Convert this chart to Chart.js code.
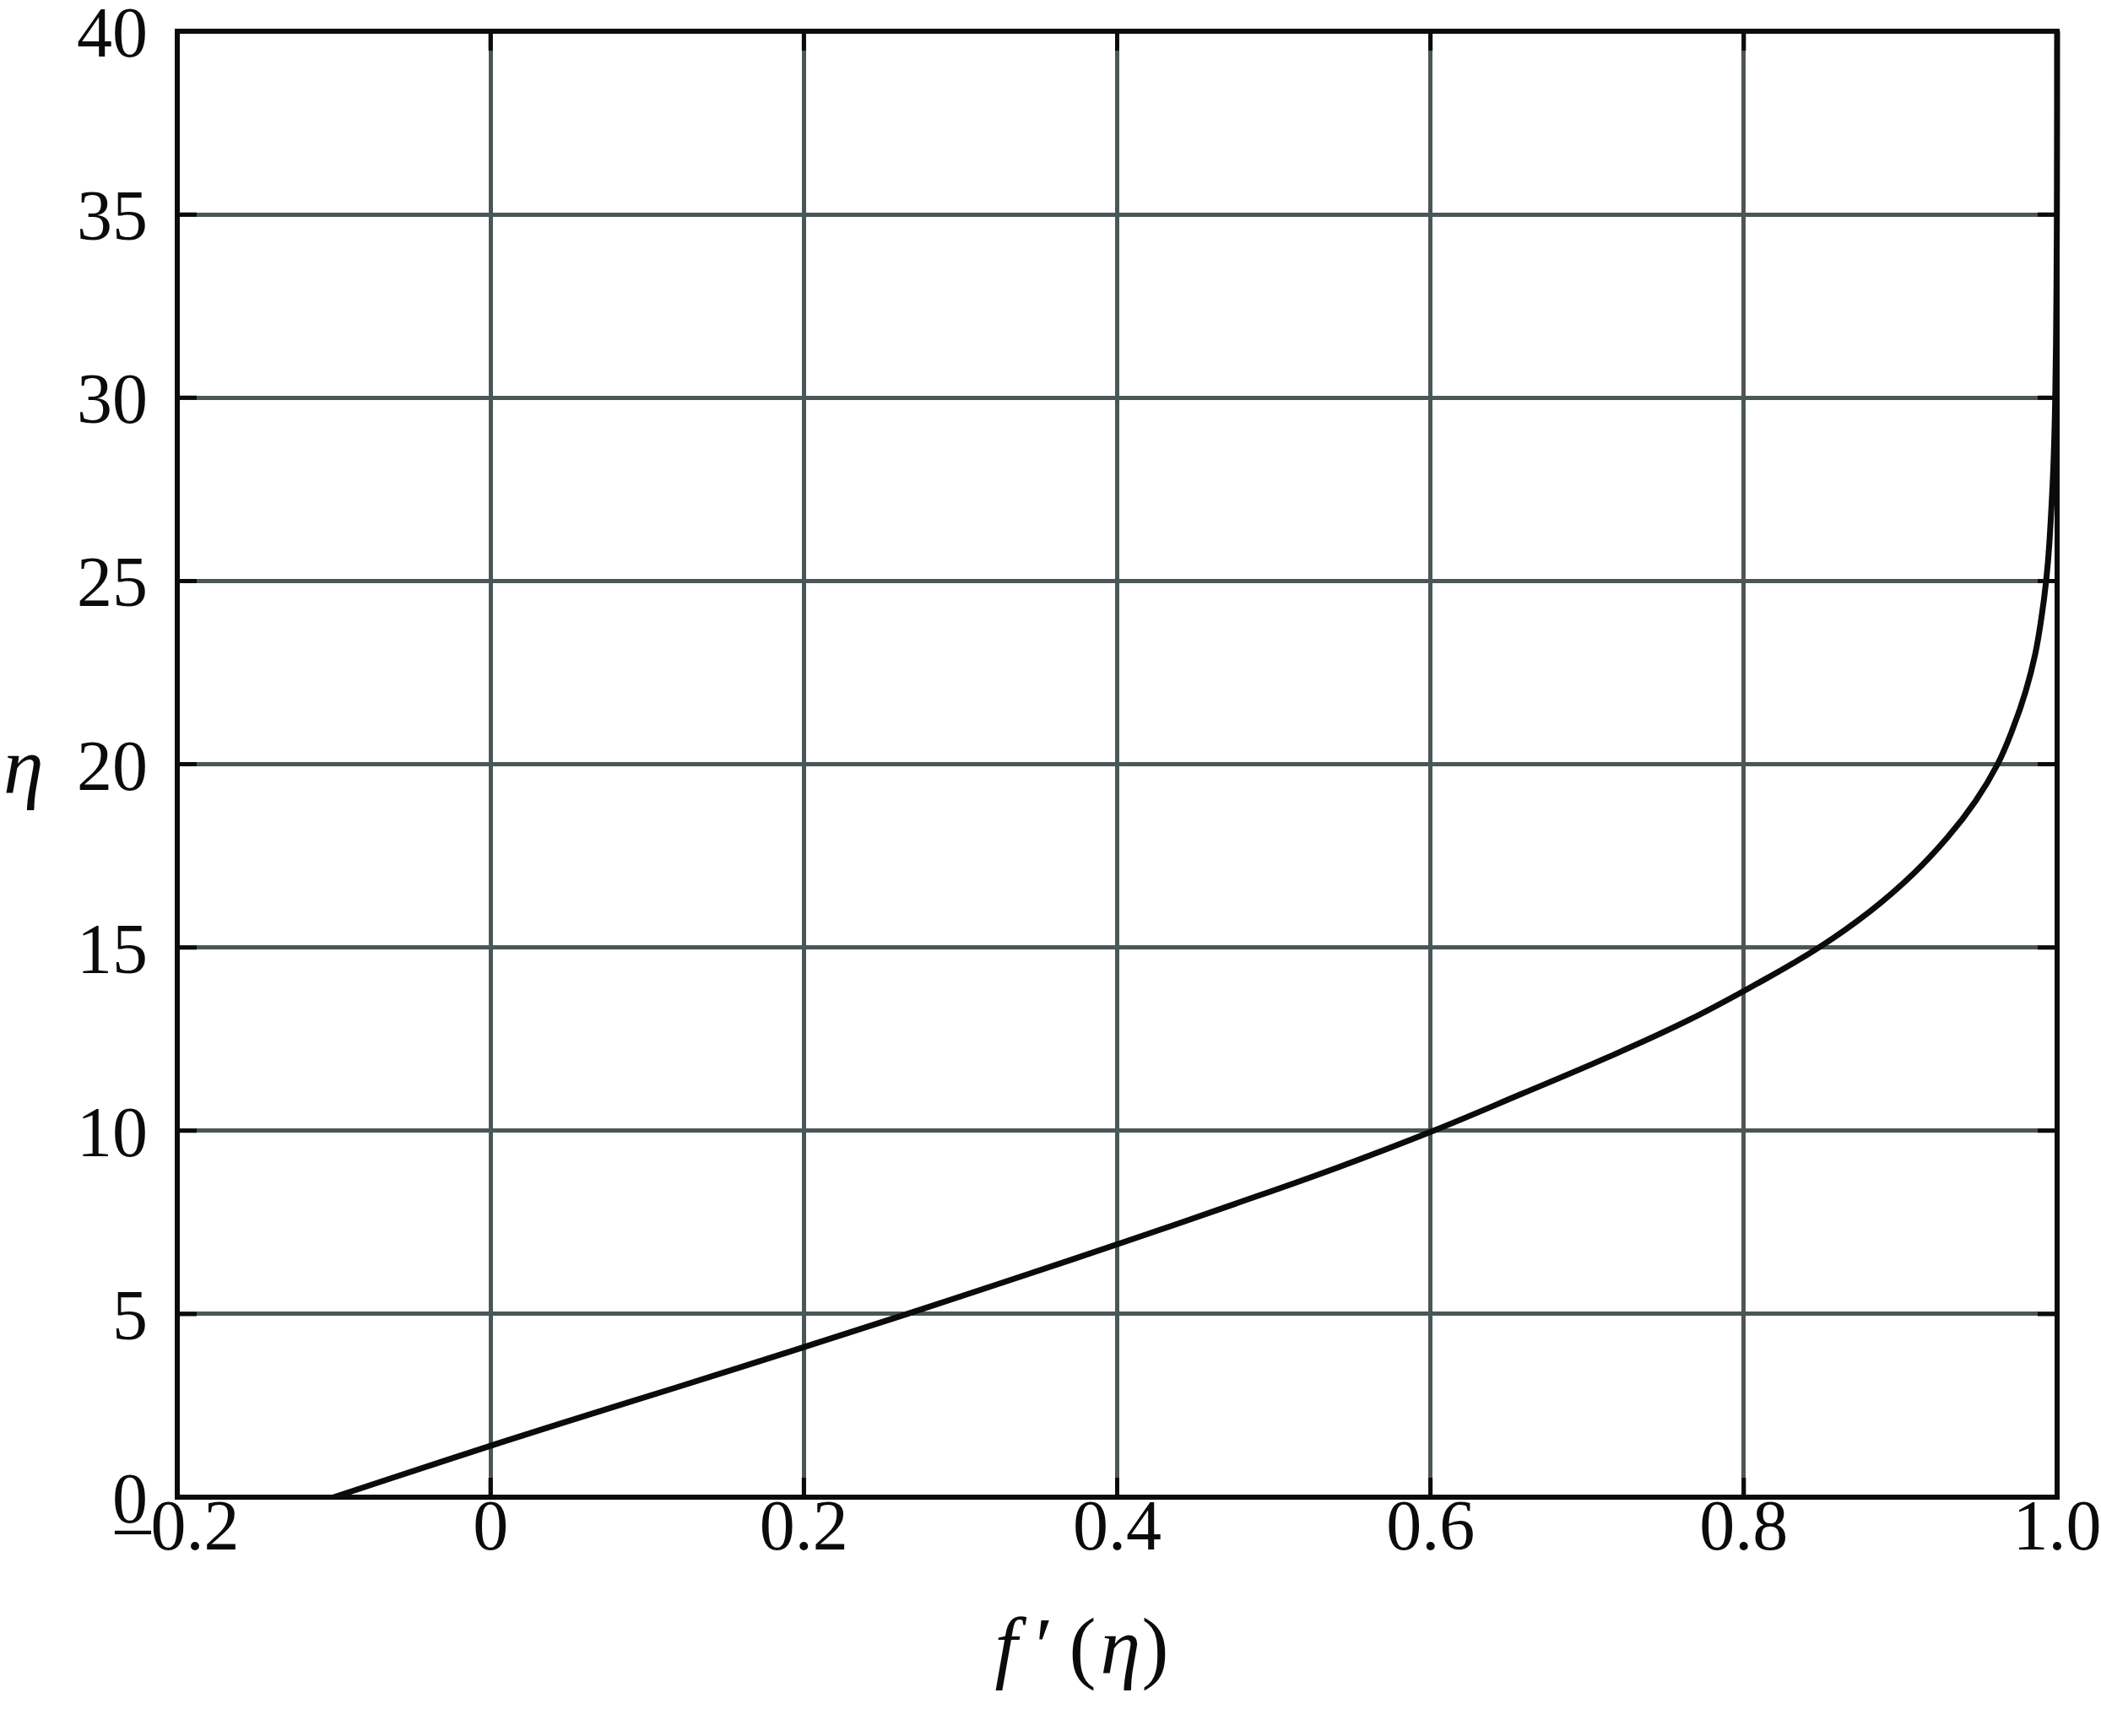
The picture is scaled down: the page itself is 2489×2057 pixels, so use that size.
<!DOCTYPE html>
<html>
<head>
<meta charset="utf-8">
<title>f'(eta) profile</title>
<script src="https://cdn.jsdelivr.net/npm/chart.js@4.4.1/dist/chart.umd.min.js"></script>
<style>
    html, body { margin: 0; padding: 0; background: #fff; }
    #wrap { width: 2489px; height: 2057px; }
</style>
</head>
<body>
<div id="wrap"><canvas id="profileChart" width="2489" height="2057"></canvas></div>
<script>
// Values (eta on the vertical axis, f' on the horizontal)
const etaValues = [0, 1, 2, 3, 4, 5, 6, 7, 8, 9, 10, 11, 12, 13, 14, 15, 16, 17, 18, 19, 20, 21, 22, 23, 24, 25, 26, 28, 30, 33, 36, 40];
const fPrimeValues = [-0.1, -0.029, 0.044, 0.119, 0.193, 0.266, 0.337, 0.407, 0.475, 0.541, 0.602, 0.658, 0.713, 0.764, 0.808, 0.848, 0.881, 0.908, 0.930, 0.948, 0.962, 0.972, 0.980, 0.986, 0.990, 0.993, 0.995, 0.9975, 0.9988, 0.9996, 0.9999, 1.0];

const xTicks = [-0.2, 0, 0.2, 0.4, 0.6, 0.8, 1.0];
const yTicks = [0, 5, 10, 15, 20, 25, 30, 35, 40];

const serif = '"Liberation Serif", "Times New Roman", serif';
const gridColor = '#4b5757';
const inkColor = '#0b0b0b';

// Frame, inward ticks and the math-style axis titles
const framePlugin = {
    id: 'frame',
    beforeDatasetsDraw(chart) {
        const ctx = chart.ctx;
        const a = chart.chartArea;
        const xs = chart.scales.x;
        const ys = chart.scales.y;
        const tick = 23;
        ctx.save();
        ctx.strokeStyle = inkColor;
        ctx.lineWidth = 5;
        xs.ticks.forEach(function(t) {
            const px = xs.getPixelForValue(t.value);
            ctx.beginPath();
            ctx.moveTo(px, a.bottom); ctx.lineTo(px, a.bottom - tick);
            ctx.moveTo(px, a.top); ctx.lineTo(px, a.top + tick);
            ctx.stroke();
        });
        ys.ticks.forEach(function(t) {
            const py = ys.getPixelForValue(t.value);
            ctx.beginPath();
            ctx.moveTo(a.left, py); ctx.lineTo(a.left + tick, py);
            ctx.moveTo(a.right, py); ctx.lineTo(a.right - tick, py);
            ctx.stroke();
        });
        ctx.lineWidth = 6;
        ctx.strokeRect(a.left, a.top, a.right - a.left, a.bottom - a.top);
        ctx.restore();
    },
    afterDraw(chart) {
        const ctx = chart.ctx;
        const a = chart.chartArea;
        ctx.save();
        ctx.fillStyle = inkColor;
        ctx.textBaseline = 'alphabetic';
        ctx.textAlign = 'left';

        // x title: f'(eta), centred a little left of the plot centre
        const size = 96;
        const it = 'italic ' + size + 'px ' + serif;
        const up = size + 'px ' + serif;
        const base = 1983;
        const cx = (a.left + a.right) / 2 - 45;
        const parts = [
            { t: 'f', f: it, dx: -100 },
            { t: '\u2032', f: up, dx: -52 },
            { t: '(', f: up, dx: -12 },
            { t: '\u03b7', f: it, dx: 25 },
            { t: ')', f: up, dx: 74 }
        ];
        parts.forEach(function(p) {
            ctx.font = p.f;
            ctx.fillText(p.t, cx + p.dx, base);
        });

        // y title: eta, not rotated
        ctx.font = it;
        ctx.fillText('\u03b7', 4, 940);
        ctx.restore();
    }
};

new Chart(document.getElementById('profileChart'), {
    type: 'scatter',
    data: {
        datasets: [{
            data: etaValues.map(function(eta, i) { return { x: fPrimeValues[i], y: eta }; }),
            showLine: true,
            borderColor: inkColor,
            borderWidth: 7,
            pointRadius: 0,
            tension: 0.4,
            clip: 8
        }]
    },
    options: {
        responsive: false,
        animation: false,
        layout: { padding: { top: 37, right: 52, bottom: 0, left: 0 } },
        plugins: {
            legend: { display: false },
            tooltip: { enabled: false }
        },
        scales: {
            x: {
                type: 'linear',
                min: -0.2,
                max: 1.0,
                afterBuildTicks: function(scale) {
                    scale.ticks = xTicks.map(function(v) { return { value: v }; });
                },
                afterFit: function(scale) {
                    scale.height = 2057 - 1774;
                    scale.paddingLeft = 0;
                    scale.paddingRight = 0;
                },
                grid: { color: gridColor, lineWidth: 5, drawTicks: false },
                border: { display: false },
                ticks: {
                    padding: -10,
                    maxRotation: 0,
                    autoSkip: false,
                    color: inkColor,
                    font: { family: serif, size: 84 },
                    callback: function(v) {
                        if (v === 0) return '0';
                        return v.toFixed(1).replace('-', '\u2013');
                    }
                }
            },
            y: {
                type: 'linear',
                min: 0,
                max: 40,
                afterBuildTicks: function(scale) {
                    scale.ticks = yTicks.map(function(v) { return { value: v }; });
                },
                afterFit: function(scale) {
                    scale.width = 210;
                    scale.paddingTop = 0;
                    scale.paddingBottom = 0;
                },
                grid: { color: gridColor, lineWidth: 5, drawTicks: false },
                border: { display: false },
                ticks: {
                    padding: 35,
                    labelOffset: 8,
                    autoSkip: false,
                    color: inkColor,
                    font: { family: serif, size: 84 }
                }
            }
        }
    },
    plugins: [framePlugin]
});
</script>
</body>
</html>
